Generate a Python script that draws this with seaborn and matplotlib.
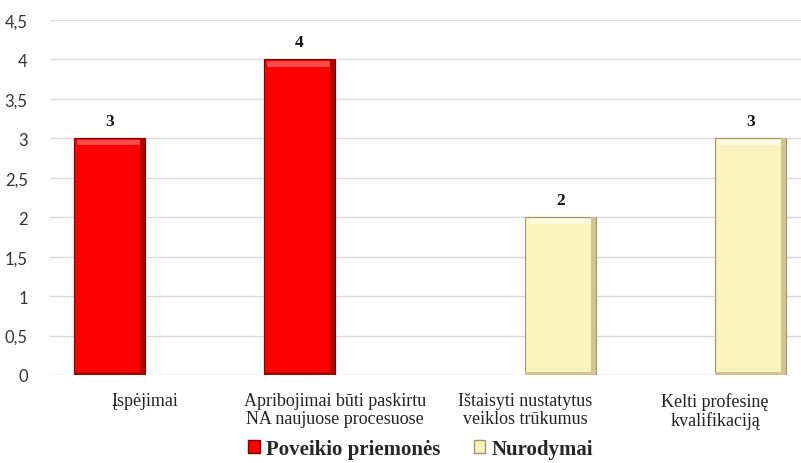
import numpy as np
import pandas as pd
import seaborn as sns
import matplotlib.pyplot as plt
from matplotlib.ticker import FuncFormatter
from matplotlib.patches import Patch, Rectangle

categories = ["Įspėjimai",
              "Apribojimai būti paskirtu\nNA naujuose procesuose",
              "Ištaisyti nustatytus\nveiklos trūkumus",
              "Kelti profesinę\nkvalifikaciją"]
series_names = ["Poveikio priemonės", "Nurodymai"]
series_of_cat = ["Poveikio priemonės", "Poveikio priemonės", "Nurodymai", "Nurodymai"]
values = [3, 4, 2, 3]
colors = {"Poveikio priemonės": "#FF0000", "Nurodymai": "#FBF3BE"}
edge_colors = {"Poveikio priemonės": "#7A0000", "Nurodymai": "#9E956A"}
shade_colors = {"Poveikio priemonės": "#B00000", "Nurodymai": "#CFC590"}
light_colors = {"Poveikio priemonės": "#FF4A4A", "Nurodymai": "#FFFBE0"}
yticks = [0, 0.5, 1, 1.5, 2, 2.5, 3, 3.5, 4, 4.5]

df = pd.DataFrame({"cat": categories, "series": series_of_cat, "val": values})

sns.set_theme(style="white")
plt.rcParams['font.family'] = ['Liberation Serif', 'DejaVu Serif']

fig = plt.figure(figsize=(8.01, 4.64), dpi=100)
ax = fig.add_axes([50/801, 88/464, 751/801, 355/464])

sns.barplot(data=df, x="cat", y="val", hue="series", order=categories,
            hue_order=series_names, palette=colors, width=0.75, dodge=True,
            ax=ax, legend=False, saturation=1, zorder=3)

bars = [p for p in ax.patches if p.get_height() and not np.isnan(p.get_height()) and p.get_height() > 0]
for p in bars:
    fc = p.get_facecolor()
    ser = "Poveikio priemonės" if fc[1] < 0.5 else "Nurodymai"
    p.set_edgecolor(edge_colors[ser])
    p.set_linewidth(0.8)
    x, w, h = p.get_x(), p.get_width(), p.get_height()
    # bevel: right dark strip, bottom dark strip, top light strip
    ax.add_patch(Rectangle((x + w*0.93, 0), w*0.07, h, facecolor=shade_colors[ser],
                           edgecolor="none", zorder=4))
    ax.add_patch(Rectangle((x, 0), w, 0.04, facecolor=shade_colors[ser],
                           edgecolor="none", zorder=4))
    ax.add_patch(Rectangle((x + w*0.05, h - 0.09), w*0.88, 0.07, facecolor=light_colors[ser],
                           edgecolor="none", zorder=4))
    ax.text(x + w/2, h + 0.12, f"{h:g}",
            ha="center", va="bottom", fontsize=12.5, fontweight="bold",
            color="#111111")

ax.set_ylim(0, 4.5)
ax.set_xlim(-0.5, 3.5 - 9/190)
ax.set_yticks(yticks)
ax.yaxis.set_major_formatter(FuncFormatter(lambda v, pos: f"{v:g}".replace(".", ",")))
ax.grid(axis="y", color="#D9D9D9", linewidth=1, zorder=0)
ax.set_axisbelow(True)
for s in ax.spines.values():
    s.set_visible(False)
ax.set_xlabel("")
ax.set_ylabel("")
ax.tick_params(axis="y", labelsize=12, labelcolor="#333333", pad=16, length=0)
ax.tick_params(axis="x", labelsize=13, labelcolor="#222222", pad=12, length=0)
for lbl in ax.get_yticklabels():
    lbl.set_fontfamily(['Lato', 'DejaVu Sans'])
for lbl in ax.get_xticklabels():
    lbl.set_linespacing(1.1)

handles = [Patch(facecolor=colors[s], edgecolor=edge_colors[s]) for s in series_names]
fig.legend(handles, series_names, loc="center", bbox_to_anchor=(0.525, 14/464),
           ncol=2, frameon=False, prop={"size": 15, "weight": "bold"},
           handlelength=0.55, handleheight=0.55, handletextpad=0.3, columnspacing=1.6)

fig.savefig("out.png", dpi=100)
